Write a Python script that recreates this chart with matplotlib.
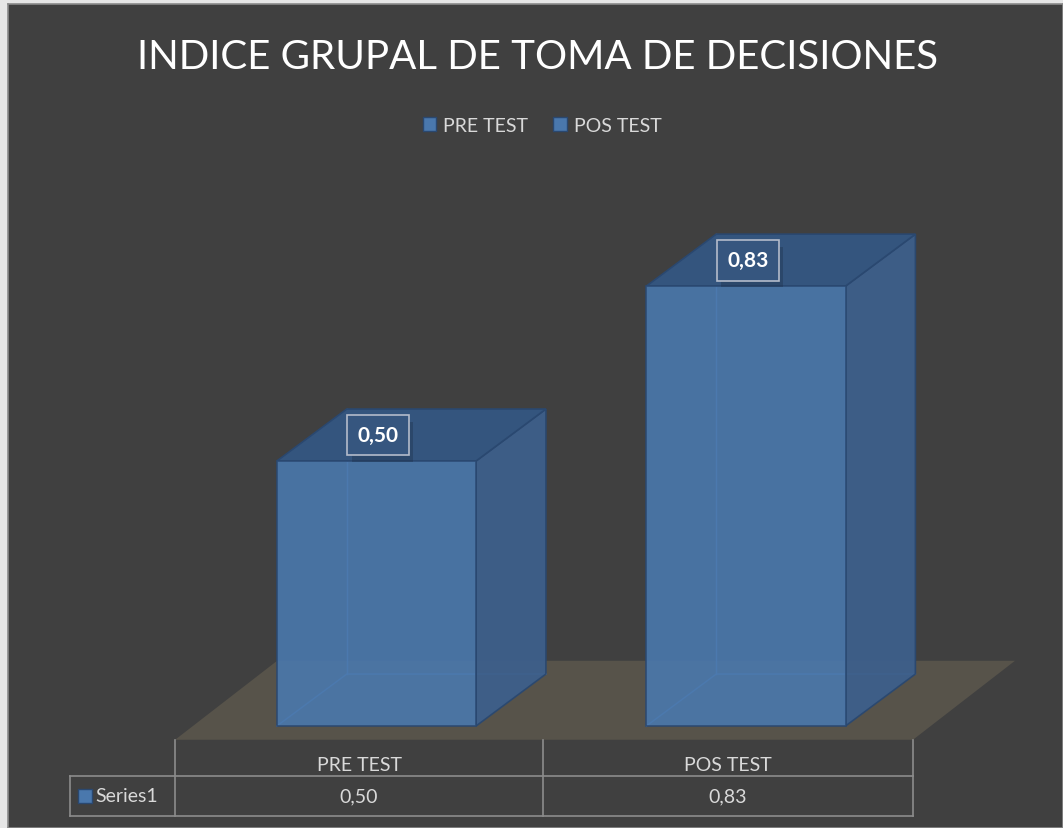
import matplotlib
matplotlib.use('Agg')
import matplotlib.pyplot as plt
import matplotlib.patheffects as pe
from matplotlib.patches import Polygon, Rectangle, Patch

# datos del grafico
categories = ['PRE TEST', 'POS TEST']
values = [0.50, 0.83]
series_name = 'Series1'
title = 'INDICE GRUPAL DE TOMA DE DECISIONES'

plt.rcParams['font.family'] = ['Lato', 'DejaVu Sans']

BG = '#404040'
FRONT = '#4a78ad'
SIDE = '#3d5f8b'
TOP = '#34557e'
EDGE = '#2a4870'
FLOOR = '#57534a'
GRID = '#8c8c8c'
TXT = '#d9d9d9'


def fmt(v):
    return f'{v:.2f}'.replace('.', ',')


fig = plt.figure(figsize=(10.63, 8.29), dpi=100)
fig.patch.set_facecolor('#e6e6e6')

# fondo del area del grafico con borde
bg = fig.add_axes([8 / 1063, 0, 1 - 8 / 1063, 1 - 5 / 829])
bg.set_facecolor(BG)
bg.set_xticks([])
bg.set_yticks([])
for s in bg.spines.values():
    s.set_color('#8a8a8a')
    s.set_linewidth(1.2)

ax = fig.add_axes([0, 0, 1, 1])
ax.set_facecolor('none')
ax.set_xlim(-1.019, 1.858)
ax.set_ylim(-0.1925, 1.3717)
ax.axis('off')

w = 0.539      # ancho de barra (en unidades de categoria)
dx, dy = 0.189, 0.098   # profundidad 3D

# piso
f_left, f_right, f_y = -0.545, 1.452, -0.026
fdx, fdy = 0.276, 0.149
ax.add_patch(Polygon([(f_left, f_y), (f_right, f_y), (f_right + fdx, f_y + fdy),
                      (f_left + fdx, f_y + fdy)], closed=True, facecolor=FLOOR,
                     edgecolor='none', zorder=1))

for i, v in enumerate(values):
    x0, x1 = i - w / 2, i + w / 2
    # aristas ocultas (la barra es algo transparente)
    ax.plot([x0, x0 + dx, x1 + dx], [0, dy, dy], color='#5a86bb', lw=1, zorder=2)
    ax.plot([x0 + dx, x0 + dx], [dy, v + dy], color='#5a86bb', lw=1, zorder=2)
    ax.add_patch(Polygon([(x1, 0), (x1 + dx, dy), (x1 + dx, v + dy), (x1, v)], closed=True,
                         facecolor=SIDE, edgecolor=EDGE, lw=1.2, alpha=0.95, zorder=3))
    ax.add_patch(Polygon([(x0, v), (x1, v), (x1 + dx, v + dy), (x0 + dx, v + dy)], closed=True,
                         facecolor=TOP, edgecolor=EDGE, lw=1.2, zorder=3))
    ax.add_patch(Rectangle((x0, 0), w, v, facecolor=FRONT, edgecolor=EDGE, lw=1.2,
                           alpha=0.9, zorder=4))
    # etiqueta de datos con sombra
    t = ax.text(i + 0.005, v + dy / 2, fmt(v), ha='center', va='center', color='white',
                fontsize=15, fontweight='bold', zorder=6,
                bbox=dict(boxstyle='square,pad=0.5', facecolor='#36567f',
                          edgecolor='#b4bccb', lw=1.2))
    t.get_bbox_patch().set_path_effects([
        pe.SimplePatchShadow(offset=(3, -5), shadow_rgbFace='#1c2d45', alpha=0.35),
        pe.Normal()])

# tabla de datos
col_edges = [-0.545, 0.4506, 1.452]
row_top, row_mid, row_bot = -0.026, -0.094, -0.170
s_left = -0.8295
for xe in col_edges:
    ax.plot([xe, xe], [row_top, row_bot], color=GRID, lw=1.2, zorder=5)
ax.plot([s_left, s_left], [row_mid, row_bot], color=GRID, lw=1.2, zorder=5)
for ye in (row_mid, row_bot):
    ax.plot([s_left, col_edges[-1]], [ye, ye], color=GRID, lw=1.2, zorder=5)

for i, c in enumerate(categories):
    xc = (col_edges[i] + col_edges[i + 1]) / 2
    ax.text(xc, -0.0736, c, ha='center', va='center', color=TXT, fontsize=14)
    ax.text(xc, -0.132, fmt(values[i]), ha='center', va='center', color=TXT, fontsize=14)

ax.add_patch(Rectangle((-0.808, -0.145), 0.038, 0.026, facecolor=FRONT, edgecolor=EDGE,
                       lw=1, zorder=6))
ax.text(-0.762, -0.132, series_name, ha='left', va='center', color=TXT, fontsize=14)

# titulo y leyenda
fig.text(0.506, 0.931, title, ha='center', va='center', color='white', fontsize=29)
handles = [Patch(facecolor=FRONT, edgecolor=EDGE, label=c) for c in categories]
fig.legend(handles=handles, loc='center', bbox_to_anchor=(0.51, 0.848), ncol=2,
           frameon=False, fontsize=14, labelcolor=TXT, handlelength=0.7,
           handleheight=0.7, handletextpad=0.35, columnspacing=1.3)

fig.savefig('out.png', dpi=100, facecolor=fig.get_facecolor())
